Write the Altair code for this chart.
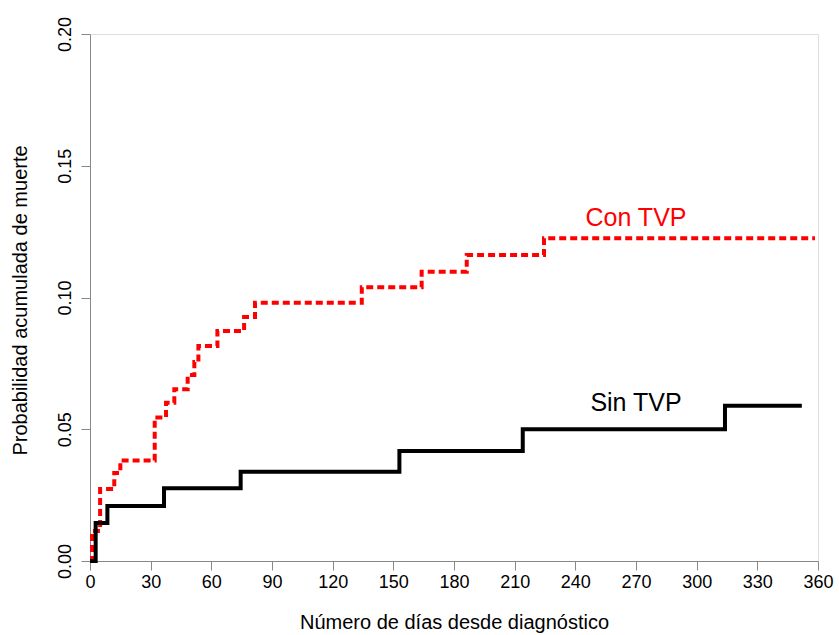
import altair as alt
import pandas as pd

# Cumulative death probability by follow-up day (1 - Kaplan-Meier), per group
con_dias = [0, 1, 5, 12, 15, 32, 37.6, 41.7, 48.3, 51.6, 53.6, 63, 76.2, 81.6, 134.4, 164, 186.3, 224.5, 358.5]
con_prob = [0, 0.0114, 0.0273, 0.0334, 0.0381, 0.0545, 0.0601, 0.0652, 0.0706, 0.0755, 0.0816, 0.0873,
            0.0926, 0.0980, 0.1039, 0.1098, 0.1161, 0.1225, 0.1225]

sin_dias = [0, 2.8, 8.6, 36.6, 74.5, 153, 214, 314, 352]
sin_prob = [0, 0.0144, 0.0209, 0.0276, 0.0339, 0.0417, 0.0500, 0.0589, 0.0589]

etiquetas = ["Con TVP", "Sin TVP"]
etiqueta_x = [270, 270]
etiqueta_y = [0.1302, 0.0598]
etiqueta_color = ["#FF0000", "#000000"]

x_ticks = list(range(0, 361, 30))
y_ticks = [0.0, 0.05, 0.10, 0.15, 0.20]

FONT = "Liberation Sans"

con_df = pd.DataFrame({"dias": con_dias, "prob": con_prob})
sin_df = pd.DataFrame({"dias": sin_dias, "prob": sin_prob})
lab_df = pd.DataFrame({"txt": etiquetas, "x": etiqueta_x, "y": etiqueta_y, "col": etiqueta_color})

x_scale = alt.Scale(domain=[0, 360], nice=False, zero=False)
y_scale = alt.Scale(domain=[0, 0.20], nice=False)

x_axis = alt.Axis(
    values=x_ticks, format="d", title="Número de días desde diagnóstico", grid=False,
    titleY=61, titleBaseline="middle", titleFontSize=20, titleFontWeight="normal",
    labelFontSize=18, labelPadding=3, tickSize=9, labelFlush=False, labelOverlap=False,
)
y_axis = alt.Axis(
    values=y_ticks, format=".2f", title="Probabilidad acumulada de muerte", grid=False,
    titleX=-70, titleY=266, titleAngle=270, titleBaseline="middle", titleAlign="center",
    titleFontSize=20, titleFontWeight="normal",
    labelFontSize=18, labelAngle=270, labelAlign="center", labelBaseline="bottom",
    labelPadding=7, tickSize=9, labelFlush=False, labelOverlap=False,
)

sin_line = alt.Chart(sin_df).mark_line(
    interpolate="step-after", color="#000000", strokeWidth=4, strokeCap="butt"
).encode(
    x=alt.X("dias:Q", scale=x_scale, axis=x_axis),
    y=alt.Y("prob:Q", scale=y_scale, axis=y_axis),
)

con_line = alt.Chart(con_df).mark_line(
    interpolate="step-after", color="#FF0000", strokeWidth=4, strokeDash=[7, 4], strokeCap="butt"
).encode(
    x=alt.X("dias:Q", scale=x_scale, axis=x_axis),
    y=alt.Y("prob:Q", scale=y_scale, axis=y_axis),
)

labels = alt.Chart(lab_df).mark_text(
    font=FONT, fontSize=25, align="center", baseline="middle"
).encode(
    x=alt.X("x:Q", scale=x_scale, axis=x_axis),
    y=alt.Y("y:Q", scale=y_scale, axis=y_axis),
    text="txt:N",
    color=alt.Color("col:N", scale=None),
)

chart = alt.layer(con_line, sin_line, labels).properties(
    width=728, height=527,
    autosize=alt.AutoSizeParams(type="none"),
    padding={"left": 90, "top": 34, "right": 21, "bottom": 74},
).configure_view(stroke=None).configure_axis(
    grid=False, domainColor="#000000", domainWidth=1, tickColor="#000000", tickWidth=1,
    labelColor="#000000", titleColor="#000000", labelFont=FONT, titleFont=FONT,
).configure(background="white")

chart.save("out.html", embed_options={"renderer": "svg", "actions": False})
